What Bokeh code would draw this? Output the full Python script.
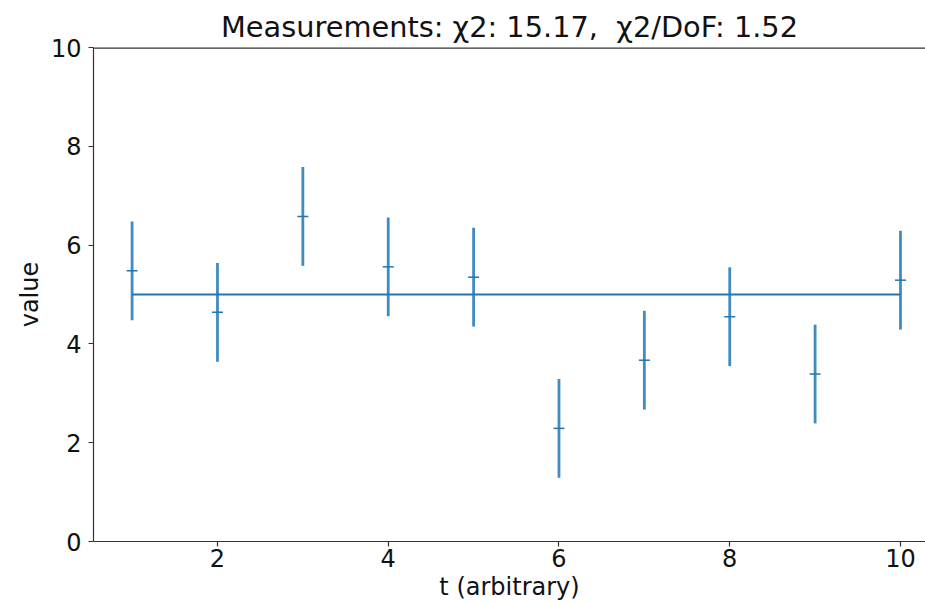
from bokeh.plotting import figure
from bokeh.models import Range1d, FixedTicker, Span
from bokeh.embed import file_html
from bokeh.resources import INLINE

t = [1, 2, 3, 4, 5, 6, 7, 8, 9, 10]
values = [5.48, 4.64, 6.58, 5.56, 5.35, 2.29, 3.67, 4.55, 3.39, 5.29]
errors = [1.0, 1.0, 1.0, 1.0, 1.0, 1.0, 1.0, 1.0, 1.0, 1.0]
model = [5.0, 5.0, 5.0, 5.0, 5.0, 5.0, 5.0, 5.0, 5.0, 5.0]
x_ticks = [2, 4, 6, 8, 10]
y_ticks = [0, 2, 4, 6, 8, 10]
title_text = "Measurements: \u03c72: 15.17,\u00a0\u00a0\u03c72/DoF: 1.52"

BLUE = "#1f77b4"
FONT = "DejaVu Sans"
AX = "#333333"

p = figure(width=925, height=603, output_backend="svg", toolbar_location=None,
           x_range=Range1d(0.548, 10.293), y_range=Range1d(0, 10),
           min_border_left=93, min_border_right=0, min_border_top=47, min_border_bottom=55)

p.title.text = title_text
p.title.align = "center"
p.title.offset = 5
p.title.text_font = FONT
p.title.text_font_size = "28.8px"
p.title.text_font_style = "normal"
p.title.text_color = "#111111"
p.title.standoff = 8

p.xgrid.visible = False
p.ygrid.visible = False
p.outline_line_color = None
p.background_fill_color = "white"
p.border_fill_color = "white"

for ax in (p.xaxis[0], p.yaxis[0]):
    ax.axis_line_color = AX
    ax.axis_line_width = 1.2
    ax.major_tick_line_color = AX
    ax.major_tick_line_width = 1.2
    ax.major_tick_out = 5
    ax.major_tick_in = 0
    ax.minor_tick_line_color = None
    ax.major_label_text_font = FONT
    ax.major_label_text_font_size = "24px"
    ax.major_label_text_color = "#111111"
    ax.axis_label_text_font = FONT
    ax.axis_label_text_font_size = "24px"
    ax.axis_label_text_font_style = "normal"
    ax.axis_label_text_color = "#111111"

p.xaxis.ticker = FixedTicker(ticks=x_ticks)
p.yaxis.ticker = FixedTicker(ticks=y_ticks)
p.xaxis.axis_label = "t (arbitrary)"
p.yaxis.axis_label = "value"
p.xaxis.major_label_standoff = 2
p.yaxis.major_label_standoff = 7
p.xaxis.axis_label_standoff = 3
p.yaxis.axis_label_standoff = 4

# top spine (the right spine is outside the cropped reference)
p.add_layout(Span(location=10, dimension="width", line_color=AX, line_width=2.4))

lows = [v - e for v, e in zip(values, errors)]
highs = [v + e for v, e in zip(values, errors)]

p.line(t, model, line_color=BLUE, line_width=1.8)
p.segment(x0=t, y0=lows, x1=t, y1=highs, line_color=BLUE, line_width=2.8, line_alpha=0.85)
p.scatter(t, values, marker="dash", size=11, line_color=BLUE, line_width=1.5)

open("out.html", "w").write(file_html(p, INLINE))
